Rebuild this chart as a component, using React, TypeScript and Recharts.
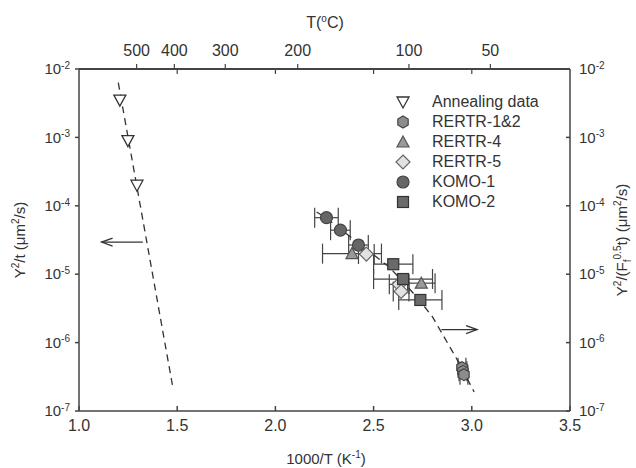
import React from 'react'
import { ComposedChart, Scatter, XAxis, YAxis, ErrorBar, Legend } from 'recharts'

// 1000/T (1/K) values, y in um^2/s, ex = x error half-width
const annealing = [
  { x: 1.208, y: 3.5e-3 },
  { x: 1.249, y: 9.0e-4 },
  { x: 1.295, y: 2.0e-4 },
]
const rertr12 = [
  { x: 2.95, y: 4.3e-7, ex: 0.02 },
  { x: 2.955, y: 3.8e-7, ex: 0.02 },
  { x: 2.96, y: 3.4e-7, ex: 0.02 },
]
const rertr4 = [
  { x: 2.39, y: 2.0e-5, ex: 0.15 },
  { x: 2.743, y: 7.4e-6, ex: 0.07 },
]
const rertr5 = [
  { x: 2.463, y: 1.97e-5, ex: 0.04 },
  { x: 2.63, y: 7.1e-6, ex: 0.05 },
  { x: 2.64, y: 5.6e-6, ex: 0.04 },
]
const komo1 = [
  { x: 2.26, y: 6.7e-5, ex: 0.06 },
  { x: 2.331, y: 4.4e-5, ex: 0.05 },
  { x: 2.423, y: 2.67e-5, ex: 0.05 },
]
const komo2 = [
  { x: 2.6, y: 1.4e-5, ex: 0.1 },
  { x: 2.65, y: 8.5e-6, ex: 0.15 },
  { x: 2.738, y: 4.2e-6, ex: 0.11 },
]

const annealFit = [
  { x: 1.2, y: 6.3e-3 },
  { x: 1.478, y: 2.2e-7 },
]
const irradFit = [
  { x: 2.21, y: 8.1e-5 },
  { x: 2.26, y: 6.6e-5 },
  { x: 2.33, y: 4.6e-5 },
  { x: 2.42, y: 2.9e-5 },
  { x: 2.58, y: 1.27e-5 },
  { x: 2.656, y: 7.4e-6 },
  { x: 2.733, y: 4.2e-6 },
  { x: 2.8, y: 2.37e-6 },
  { x: 2.92, y: 6.0e-7 },
  { x: 3.012, y: 1.9e-7 },
]
const leftArrow = [
  { x: 1.325, y: 2.95e-5 },
  { x: 1.115, y: 2.95e-5 },
]
const rightArrow = [
  { x: 2.845, y: 1.55e-6 },
  { x: 3.027, y: 1.55e-6 },
]

const xTicks = [1, 1.5, 2, 2.5, 3, 3.5]
const tempTicksC = [500, 400, 300, 200, 100, 50]
const yTicks = [1e-7, 1e-6, 1e-5, 1e-4, 1e-3, 1e-2]

const toInvT = (c: number) => 1000 / (c + 273.15)
const tempTicks = tempTicksC.map(toInvT)
// bottom-axis positions repeated as small inward ticks on the top frame
const mirrorTicks = [1.5, 2, 2.5, 3]
const topTicks = [...tempTicks, ...mirrorTicks]

const AXIS = '#444'
const TEXT = '#333'
const TOP_SIZE = 5
const TOP_MARGIN = 8
const MARGIN = { top: 39, right: 16, bottom: 27, left: 29 }
const AXIS_W = 50
const AXIS_H = 30
const W = 636
const H = 468

function Marker({ kind, cx, cy }: { kind: string; cx: number; cy: number }) {
  switch (kind) {
    case 'Annealing data':
      return <polygon points={`${cx - 6},${cy - 5} ${cx + 6},${cy - 5} ${cx},${cy + 6}`} fill="#fff" stroke="#333" strokeWidth={1.3} />
    case 'RERTR-1&2': {
      const pts = [0, 1, 2, 3, 4, 5].map(i => {
        const a = (Math.PI / 3) * i + Math.PI / 6
        return `${cx + 6 * Math.cos(a)},${cy + 6 * Math.sin(a)}`
      })
      return <polygon points={pts.join(' ')} fill="#8c8c8c" stroke="#444" strokeWidth={1.2} />
    }
    case 'RERTR-4':
      return <polygon points={`${cx - 6},${cy + 5} ${cx + 6},${cy + 5} ${cx},${cy - 6}`} fill="#9a9a9a" stroke="#555" strokeWidth={1.2} />
    case 'RERTR-5':
      return <polygon points={`${cx},${cy - 7} ${cx + 7},${cy} ${cx},${cy + 7} ${cx - 7},${cy}`} fill="#e2e2e2" stroke="#666" strokeWidth={1.2} />
    case 'KOMO-1':
      return <circle cx={cx} cy={cy} r={6} fill="#666" stroke="#444" strokeWidth={1.2} />
    default:
      return <rect x={cx - 5.5} y={cy - 5.5} width={11} height={11} fill="#6a6a6a" stroke="#333" strokeWidth={1.2} />
  }
}

const markerShape = (kind: string) => (p: any) => <Marker kind={kind} cx={p.cx} cy={p.cy} />
const noShape = () => <g />

const arrowShape = (tipX: number, dir: number) => (p: any) => {
  if (p.payload?.x !== tipX) return <g />
  const { cx, cy } = p
  return <path d={`M${cx - dir * 11},${cy - 4} L${cx},${cy} L${cx - dir * 11},${cy + 4}`} fill="none" stroke="#333" strokeWidth={1.3} />
}

function PowTick(props: any) {
  const { x, y, payload, textAnchor } = props
  const exp = Math.round(Math.log10(payload.value))
  return (
    <text x={x} y={y} textAnchor={textAnchor} dy="0.35em" fill={TEXT} fontSize={15}>
      <tspan>10</tspan>
      <tspan dy="-0.55em" fontSize={10}>{exp}</tspan>
    </text>
  )
}

// top axis: labelled outward ticks for T(C), plain inward ticks for the mirrored 1000/T positions
function TopTick(props: any) {
  const { x, y, payload } = props
  const axisY = y + TOP_SIZE + TOP_MARGIN
  const isMirror = mirrorTicks.some(m => Math.abs(m - payload.value) < 1e-9)
  if (isMirror) return <line x1={x} x2={x} y1={axisY} y2={axisY + 5} stroke={AXIS} strokeWidth={1.2} />
  return (
    <g>
      <line x1={x} x2={x} y1={axisY} y2={axisY - TOP_SIZE} stroke={AXIS} strokeWidth={1.2} />
      <text x={x} y={y} textAnchor="middle" fill={TEXT} fontSize={16}>
        {Math.round(1000 / payload.value - 273.15)}
      </text>
    </g>
  )
}

const series = [
  { name: 'Annealing data', data: annealing, err: false },
  { name: 'RERTR-1&2', data: rertr12, err: true },
  { name: 'RERTR-4', data: rertr4, err: true },
  { name: 'RERTR-5', data: rertr5, err: true },
  { name: 'KOMO-1', data: komo1, err: true },
  { name: 'KOMO-2', data: komo2, err: true },
]

function LegendBox() {
  return (
    <div>
      {series.map(s => (
        <div key={s.name} style={{ display: 'flex', alignItems: 'center', height: 20 }}>
          <svg width={16} height={20}>
            <Marker kind={s.name} cx={8} cy={10} />
          </svg>
          <span style={{ marginLeft: 21, fontSize: 16, color: TEXT, lineHeight: '20px' }}>{s.name}</span>
        </div>
      ))}
    </div>
  )
}

export default function App() {
  const font = '"Liberation Sans", Arial, sans-serif'
  const plotTop = MARGIN.top + AXIS_H
  const plotLeft = MARGIN.left + AXIS_W
  const plotRight = W - MARGIN.right - AXIS_W
  return (
    <div style={{ position: 'absolute', left: 0, top: 0, width: W, height: H, background: '#fff', fontFamily: font }}>
      <ComposedChart width={W} height={H} margin={MARGIN} style={{ fontFamily: font }}>
        <XAxis xAxisId="b" type="number" dataKey="x" orientation="bottom" domain={[1, 3.5]} ticks={xTicks}
          tickFormatter={(v: number) => v.toFixed(1)} height={AXIS_H} tickSize={-5} tickMargin={14}
          stroke={AXIS} strokeWidth={1.5} tick={{ fill: TEXT, fontSize: 16 }} allowDataOverflow />
        <XAxis xAxisId="t" type="number" dataKey="x" orientation="top" domain={[1, 3.5]} ticks={topTicks}
          height={AXIS_H} tickSize={TOP_SIZE} tickMargin={TOP_MARGIN} tickLine={false} interval={0}
          stroke={AXIS} strokeWidth={2} tick={<TopTick />} allowDataOverflow />
        <YAxis yAxisId="l" type="number" dataKey="y" scale="log" domain={[1e-7, 1e-2]} ticks={yTicks} width={AXIS_W}
          tickSize={4} tickMargin={5} stroke={AXIS} strokeWidth={1.5} tick={<PowTick />} allowDataOverflow />
        <YAxis yAxisId="r" type="number" dataKey="y" scale="log" domain={[1e-7, 1e-2]} ticks={yTicks} width={AXIS_W}
          orientation="right" tickSize={-4} tickMargin={13} stroke={AXIS} strokeWidth={1.5} tick={<PowTick />} allowDataOverflow />

        <Scatter xAxisId="b" yAxisId="l" data={annealFit} line={{ stroke: '#333', strokeWidth: 1.3, strokeDasharray: '7 5' }}
          lineType="joint" shape={noShape} legendType="none" isAnimationActive={false} />
        <Scatter xAxisId="b" yAxisId="l" data={irradFit} line={{ stroke: '#333', strokeWidth: 1.3, strokeDasharray: '7 5' }}
          lineType="joint" shape={noShape} legendType="none" isAnimationActive={false} />
        <Scatter xAxisId="b" yAxisId="l" data={leftArrow} line={{ stroke: '#333', strokeWidth: 1.3 }}
          lineType="joint" shape={arrowShape(leftArrow[1].x, -1)} legendType="none" isAnimationActive={false} />
        <Scatter xAxisId="b" yAxisId="l" data={rightArrow} line={{ stroke: '#333', strokeWidth: 1.3 }}
          lineType="joint" shape={arrowShape(rightArrow[1].x, 1)} legendType="none" isAnimationActive={false} />

        {series.map(s => (
          <Scatter key={s.name} name={s.name} xAxisId="b" yAxisId="l" data={s.data} shape={markerShape(s.name)}
            legendType="circle" isAnimationActive={false}>
            {s.err && <ErrorBar dataKey="ex" direction="x" width={10} stroke="#444" strokeWidth={1.2} />}
          </Scatter>
        ))}

        <Legend layout="vertical" align="center" verticalAlign="middle" content={<LegendBox />}
          wrapperStyle={{ left: 395, top: 92, width: 180, height: 120 }} />
      </ComposedChart>

      <svg width={W} height={H} style={{ position: 'absolute', left: 0, top: 0, pointerEvents: 'none' }}
        fontFamily={font} fill={TEXT}>
        {/* top edge of the frame, drawn from the same margins as the chart */}
        <line x1={plotLeft} x2={plotRight} y1={plotTop} y2={plotTop} stroke={AXIS} strokeWidth={1.5} />
        <text x={325} y={28} textAnchor="middle" fontSize={16}>
          T(<tspan dy={-6} fontSize={10}>o</tspan><tspan dy={6}>C)</tspan>
        </text>
        <text x={326} y={464} textAnchor="middle" fontSize={15}>
          1000/T (K<tspan dy={-6} fontSize={10}>-1</tspan><tspan dy={6}>)</tspan>
        </text>
        <text transform="translate(25,240) rotate(-90)" textAnchor="middle" fontSize={15}>
          Y<tspan dy={-6} fontSize={10}>2</tspan><tspan dy={6}>/t (μm</tspan>
          <tspan dy={-6} fontSize={10}>2</tspan><tspan dy={6}>/s)</tspan>
        </text>
        <text transform="translate(627,240) rotate(-90)" textAnchor="middle" fontSize={15}>
          Y<tspan dy={-6} fontSize={10}>2</tspan><tspan dy={6}>/(F</tspan>
          <tspan dy={4} fontSize={10}>f</tspan><tspan dy={-10} fontSize={10}>0.5</tspan>
          <tspan dy={6}>t) (μm</tspan>
          <tspan dy={-6} fontSize={10}>2</tspan><tspan dy={6}>/s)</tspan>
        </text>
      </svg>
    </div>
  )
}
